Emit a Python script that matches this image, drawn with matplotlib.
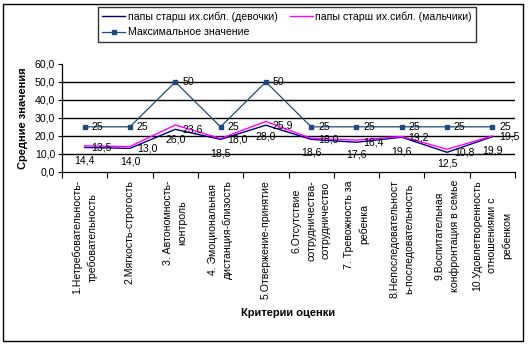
import matplotlib
matplotlib.use("Agg")
import matplotlib.pyplot as plt
from matplotlib.patches import Rectangle

plt.rcParams['font.family'] = ['Liberation Sans', 'DejaVu Sans']

categories = [
    "1.Нетребовательность-\nтребовательность",
    "2.Мягкость-строгость",
    "3. Автономность-\nконтроль",
    "4. Эмоциональная\nдистанция-близость",
    "5.Отвержение-принятие",
    "6.Отсутствие\nсотрудничества-\nсотрудничество",
    "7. Тревожность за\nребенка",
    "8.Непоследовательност\nь-последовательность",
    "9.Воспитательная\nконфронтация в семье",
    "10.Удовлетворенность\nотношениями с\nребенком",
]
girls = [13.5, 13.0, 23.6, 18.0, 25.9, 18.0, 16.4, 19.2, 10.8, 19.5]
boys = [14.4, 14.0, 26.0, 18.5, 28.0, 18.6, 17.6, 19.6, 12.5, 19.9]
max_vals = [25, 25, 50, 25, 50, 25, 25, 25, 25, 25]
yticks = [0, 10, 20, 30, 40, 50, 60]

W, H = 529, 346
fig = plt.figure(figsize=(W / 100, H / 100), dpi=100)
ax = fig.add_axes([62 / W, 1 - 171.7 / H, (515 - 62) / W, (171.7 - 64) / H])

x = list(range(1, len(categories) + 1))
c_girls = "#000080"
c_boys = "#FF00FF"
c_max = "#1F4A7A"

for yv in yticks[1:-1]:
    ax.axhline(yv, color="black", lw=1.0, zorder=1)

l1, = ax.plot(x, girls, color=c_girls, lw=1.0, label="папы старш их.сибл. (девочки)", zorder=3)
l2, = ax.plot(x, boys, color=c_boys, lw=1.0, label="папы старш их.сибл. (мальчики)", zorder=3)
l3, = ax.plot(x, max_vals, color=c_max, lw=0.9, marker="s", markersize=2.3,
              label="Максимальное значение", zorder=3)

fs = 7.6
def fmt(v):
    return f"{v:.1f}".replace(".", ",")

for xi, v in zip(x, girls):
    ax.annotate(fmt(v), (xi, v), xytext=(5, 0), textcoords="offset points",
                ha="left", va="center", fontsize=fs, zorder=4)
for xi, v in zip(x, boys):
    ax.annotate(fmt(v), (xi, v), xytext=(0, -10.5), textcoords="offset points",
                ha="center", va="center", fontsize=fs, zorder=4)
for xi, v in zip(x, max_vals):
    ax.annotate(f"{v}", (xi, v), xytext=(5, 0), textcoords="offset points",
                ha="left", va="center", fontsize=fs, zorder=4)

ax.set_xlim(0.5, len(categories) + 0.5)
ax.set_ylim(0, 60)
ax.set_yticks(yticks)
ax.set_yticklabels([fmt(v) for v in yticks], fontsize=fs)
ax.tick_params(axis="y", direction="out", length=3, width=0.8, pad=2)

ax.set_xticks(x)
ax.set_xticklabels(categories, rotation=90, fontsize=fs, ha="center", va="top",
                   multialignment="center", linespacing=1.55)
ax.tick_params(axis="x", which="major", length=0, pad=6)
ax.set_xticks([i + 0.5 for i in range(0, len(categories) + 1)], minor=True)
ax.tick_params(axis="x", which="minor", direction="out", length=4, width=0.8)

for s in ["top", "right"]:
    ax.spines[s].set_visible(False)
for s in ["left", "bottom"]:
    ax.spines[s].set_linewidth(0.9)

ax.set_ylabel("Средние значения", fontsize=8, fontweight="bold", labelpad=4)
ax.yaxis.set_label_coords(-34 / (515 - 62), 0.5)
fig.text(288 / W, 1 - 313 / H, "Критерии оценки", ha="center", va="center",
         fontsize=8, fontweight="bold")

leg = fig.legend([l1, l3, l2],
                 [l1.get_label(), l3.get_label(), l2.get_label()],
                 ncol=2, loc="upper left", bbox_to_anchor=(98 / W, 1 - 7 / H),
                 borderaxespad=0,
                 fontsize=fs, frameon=True, fancybox=False, edgecolor="black",
                 handlelength=2.2, handletextpad=0.2, columnspacing=1.2,
                 borderpad=0.4, labelspacing=0.55)
leg.get_frame().set_linewidth(1.0)

fig.patches.append(Rectangle((3 / W, 1 - 341 / H), 520 / W, 337 / H,
                             transform=fig.transFigure, fill=False,
                             edgecolor="black", lw=1.0))

fig.savefig("out.png", dpi=100)
